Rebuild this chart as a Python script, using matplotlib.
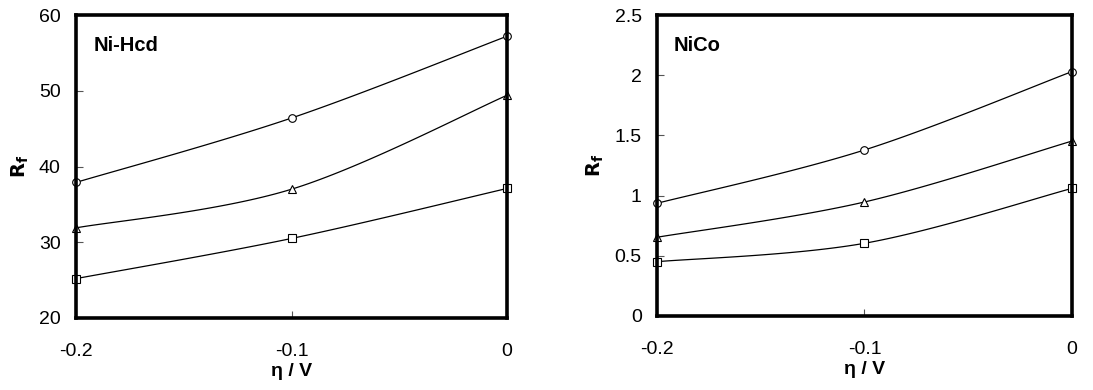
import numpy as np
import matplotlib
matplotlib.use("Agg")
import matplotlib.pyplot as plt

plt.rcParams['font.family'] = ['Liberation Sans', 'DejaVu Sans']

eta = [-0.2, -0.1, 0.0]
xticks = [-0.2, -0.1, 0.0]
xticklabels = ["-0.2", "-0.1", "0"]

# Ni-Hcd roughness factors
nihcd_circle = [37.9, 46.4, 57.2]
nihcd_triangle = [31.9, 37.0, 49.4]
nihcd_square = [25.2, 30.5, 37.1]

# NiCo roughness factors
nico_circle = [0.936, 1.379, 2.03]
nico_triangle = [0.654, 0.947, 1.453]
nico_square = [0.451, 0.604, 1.06]


def smooth(x, y, n=40):
    """Catmull-Rom style Bezier smoothing through the given points."""
    x = np.asarray(x, float)
    y = np.asarray(y, float)
    px, py = [], []
    for i in range(len(x) - 1):
        x0, y0 = (x[i - 1], y[i - 1]) if i > 0 else (x[i], y[i])
        x3, y3 = (x[i + 2], y[i + 2]) if i + 2 < len(x) else (x[i + 1], y[i + 1])
        x1, y1, x2, y2 = x[i], y[i], x[i + 1], y[i + 1]
        c1x = x1 + (x2 - x0) / 6
        c1y = y1 + (y2 - y0) / 6
        c2x = x2 - (x3 - x1) / 6
        c2y = y2 - (y3 - y1) / 6
        t = np.linspace(0, 1, n)
        bx = (1 - t) ** 3 * x1 + 3 * (1 - t) ** 2 * t * c1x + 3 * (1 - t) * t ** 2 * c2x + t ** 3 * x2
        by = (1 - t) ** 3 * y1 + 3 * (1 - t) ** 2 * t * c1y + 3 * (1 - t) * t ** 2 * c2y + t ** 3 * y2
        px.extend(bx)
        py.extend(by)
    return np.array(px), np.array(py)


fig = plt.figure(figsize=(10.93, 3.9), dpi=100)
W, H = 1093, 390
ax1 = fig.add_axes([76 / W, 1 - 318 / H, (507 - 76) / W, (318 - 15) / H])
ax2 = fig.add_axes([657 / W, 1 - 316 / H, (1072 - 657) / W, (316 - 15) / H])


def draw(ax, series, ylim, yticks, yticklabels, title):
    for vals, mk in series:
        sx, sy = smooth(eta, vals)
        ax.plot(sx, sy, color='black', lw=0.9, zorder=2)
        ax.plot(eta, vals, linestyle='none', marker=mk, ms=5.5, mfc='white',
                mec='black', mew=0.8, zorder=3, clip_on=False)
    ax.set_xlim(-0.2, 0.0)
    ax.set_ylim(*ylim)
    ax.set_xticks(xticks)
    ax.set_xticklabels(xticklabels)
    ax.set_yticks(yticks)
    ax.set_yticklabels(yticklabels)
    ax.tick_params(direction='in', length=5, width=0.8, color='#555555',
                   labelsize=14, pad=11)
    ax.tick_params(axis='x', pad=18)
    for s in ax.spines.values():
        s.set_linewidth(2.6)
        s.set_zorder(4)
    ax.set_xlabel(r'η / V', fontsize=14, fontweight='bold', labelpad=2)
    ax.set_ylabel(r'$\mathbf{R}_\mathbf{f}$', fontsize=14, labelpad=6)
    ax.text(0.04, 0.93, title, transform=ax.transAxes, fontsize=14.5,
            fontweight='bold', va='top', ha='left')


draw(ax1,
     [(nihcd_circle, 'o'), (nihcd_triangle, '^'), (nihcd_square, 's')],
     (20, 60), [20, 30, 40, 50, 60], ["20", "30", "40", "50", "60"], "Ni-Hcd")
draw(ax2,
     [(nico_circle, 'o'), (nico_triangle, '^'), (nico_square, 's')],
     (0, 2.5), [0, 0.5, 1, 1.5, 2, 2.5], ["0", "0.5", "1", "1.5", "2", "2.5"], "NiCo")

fig.savefig("out.png", dpi=100)
